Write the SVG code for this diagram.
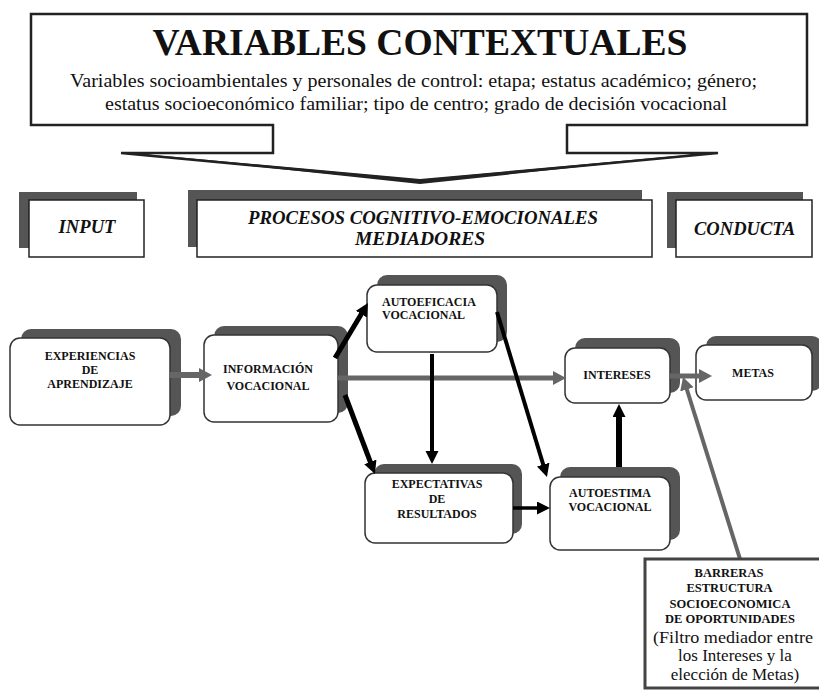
<svg xmlns="http://www.w3.org/2000/svg" width="819" height="693" viewBox="0 0 819 693">
<style>
.serif{font-family:"Liberation Serif","Times New Roman",serif;}
.title{font-size:37.5px;font-weight:bold;fill:#111;}
.sub{font-size:19px;fill:#111;}
.hdr{font-size:18px;font-weight:bold;font-style:italic;fill:#111;}
.nt{font-size:12px;font-weight:bold;fill:#111;}
.bt{font-size:12.5px;font-weight:bold;fill:#111;}
.pt{font-size:17px;fill:#111;}
.shadow{fill:#555;}
.hbox{fill:#fff;stroke:#222;stroke-width:1.5;}
.nbox{fill:#fff;stroke:#333;stroke-width:1.5;}
.blk{stroke:#000;fill:none;}
.gry{stroke:#666;fill:none;}
</style>
<defs>
<marker id="ab" markerUnits="userSpaceOnUse" markerWidth="14" markerHeight="14" refX="1" refY="6.5" orient="auto">
<path d="M0,0 L13,6.5 L0,13 z" fill="#000"/>
</marker>
<marker id="ag" markerUnits="userSpaceOnUse" markerWidth="16" markerHeight="16" refX="1" refY="7" orient="auto">
<path d="M0,0 L13,7 L0,14 z" fill="#666"/>
</marker>
</defs>
<rect width="819" height="693" fill="#fff"/>

<g id="contexto">
<polygon points="31,14 807,14 807,125 567,125 567,153 718,153 420,181 121,153 273,153 273,125 31,125" fill="#fff" stroke="#222" stroke-width="2.5" stroke-linejoin="miter"/>
<polygon points="130,153 420,179 420,184" fill="#222"/>
<polygon points="710,153 420,179 420,184" fill="#222"/>
<text class="serif title" x="420" y="55" text-anchor="middle" textLength="535" lengthAdjust="spacingAndGlyphs">VARIABLES CONTEXTUALES</text>
<text class="serif sub" x="413.5" y="87" text-anchor="middle" textLength="687" lengthAdjust="spacingAndGlyphs">Variables socioambientales y personales de control: etapa; estatus académico; género;</text>
<text class="serif sub" x="416" y="110" text-anchor="middle" textLength="622" lengthAdjust="spacingAndGlyphs">estatus socioeconómico familiar; tipo de centro; grado de decisión vocacional</text>
</g>

<g id="input">
<rect class="shadow" x="19" y="192" width="118" height="56"/>
<rect class="hbox" x="29" y="200" width="115" height="57"/>
<text class="serif hdr" x="87" y="233" text-anchor="middle" textLength="57" lengthAdjust="spacingAndGlyphs">INPUT</text>
</g>
<g id="procesos">
<rect class="shadow" x="188" y="190" width="454" height="57"/>
<rect class="hbox" x="197" y="200" width="455" height="57"/>
<text class="serif hdr" x="423" y="224" text-anchor="middle" textLength="350" lengthAdjust="spacingAndGlyphs">PROCESOS COGNITIVO-EMOCIONALES</text>
<text class="serif hdr" x="420" y="245" text-anchor="middle" textLength="130" lengthAdjust="spacingAndGlyphs">MEDIADORES</text>
</g>
<g id="conducta">
<rect class="shadow" x="667" y="192" width="136" height="56"/>
<rect class="hbox" x="676" y="200" width="136" height="57"/>
<text class="serif hdr" x="744.5" y="235" text-anchor="middle" textLength="101" lengthAdjust="spacingAndGlyphs">CONDUCTA</text>
</g>

<g id="experiencias">
<rect class="shadow" x="21" y="329" width="160" height="87" rx="10"/>
<rect class="nbox" x="10" y="338" width="160" height="87" rx="10"/>
<text class="serif nt" text-anchor="middle"><tspan x="90" y="360">EXPERIENCIAS</tspan><tspan x="90" y="374">DE</tspan><tspan x="90" y="388">APRENDIZAJE</tspan></text>
</g>
<g id="informacion">
<rect class="shadow" x="214" y="326" width="134" height="87" rx="10"/>
<rect class="nbox" x="204" y="335" width="134" height="87" rx="10"/>
<text class="serif nt" text-anchor="middle"><tspan x="268" y="373">INFORMACIÓN</tspan><tspan x="268" y="390">VOCACIONAL</tspan></text>
</g>
<g id="autoeficacia">
<rect class="shadow" x="377" y="275" width="130" height="67" rx="10"/>
<rect class="nbox" x="367" y="285" width="130" height="67" rx="10"/>
<text class="serif nt"><tspan x="382" y="306">AUTOEFICACIA</tspan><tspan x="382" y="319">VOCACIONAL</tspan></text>
</g>
<g id="expectativas">
<rect class="shadow" x="374" y="464" width="148" height="70" rx="10"/>
<rect class="nbox" x="365" y="473" width="148" height="70" rx="10"/>
<text class="serif nt" text-anchor="middle"><tspan x="437" y="488">EXPECTATIVAS</tspan><tspan x="437" y="503">DE</tspan><tspan x="437" y="518">RESULTADOS</tspan></text>
</g>
<g id="autoestima">
<rect class="shadow" x="560" y="467" width="120" height="73" rx="10"/>
<rect class="nbox" x="550" y="477" width="120" height="73" rx="10"/>
<text class="serif nt" text-anchor="middle"><tspan x="610" y="497">AUTOESTIMA</tspan><tspan x="610" y="511">VOCACIONAL</tspan></text>
</g>
<g id="intereses">
<rect class="shadow" x="575" y="338" width="105" height="55" rx="10"/>
<rect class="nbox" x="565" y="348" width="105" height="55" rx="10"/>
<text class="serif nt" x="617" y="379" text-anchor="middle">INTERESES</text>
</g>
<g id="metas">
<rect class="shadow" x="706" y="336" width="116" height="55" rx="10"/>
<rect class="nbox" x="696" y="345" width="116" height="55" rx="10"/>
<text class="serif nt" x="753" y="377" text-anchor="middle">METAS</text>
</g>

<g id="connectors">
<line class="gry" x1="170" y1="375" x2="200" y2="375" stroke-width="6" marker-end="url(#ag)"/>
<line class="gry" x1="338" y1="378" x2="554" y2="378" stroke-width="5" marker-end="url(#ag)"/>
<line class="gry" x1="670" y1="376" x2="700" y2="376" stroke-width="5" marker-end="url(#ag)"/>
<line class="gry" x1="740" y1="559" x2="686.6" y2="388.5" stroke-width="4" marker-end="url(#ag)"/>
<line class="blk" x1="335" y1="358" x2="361.8" y2="313.3" stroke-width="5" marker-end="url(#ab)"/>
<line class="blk" x1="345" y1="395" x2="370.7" y2="462.8" stroke-width="5" marker-end="url(#ab)"/>
<line class="blk" x1="432" y1="354" x2="432" y2="452" stroke-width="4" marker-end="url(#ab)"/>
<line class="blk" x1="497" y1="312" x2="543.5" y2="465.5" stroke-width="4" marker-end="url(#ab)"/>
<line class="blk" x1="513" y1="508" x2="538" y2="508" stroke-width="3.5" marker-end="url(#ab)"/>
<line class="blk" x1="619" y1="467" x2="619" y2="416" stroke-width="6" marker-end="url(#ab)"/>
</g>

<g id="barreras">
<rect x="645" y="559" width="180" height="129" fill="#fff" stroke="#444" stroke-width="3"/>
<text class="serif bt" text-anchor="middle"><tspan x="729" y="577">BARRERAS</tspan><tspan x="729.5" y="592">ESTRUCTURA</tspan><tspan x="730" y="608">SOCIOECONOMICA</tspan><tspan x="730" y="623">DE OPORTUNIDADES</tspan></text>
<text class="serif pt" text-anchor="middle"><tspan x="733" y="643" textLength="160" lengthAdjust="spacingAndGlyphs">(Filtro mediador entre</tspan><tspan x="735" y="661">los Intereses y la</tspan><tspan x="735" y="680">elección de Metas)</tspan></text>
</g>
</svg>
